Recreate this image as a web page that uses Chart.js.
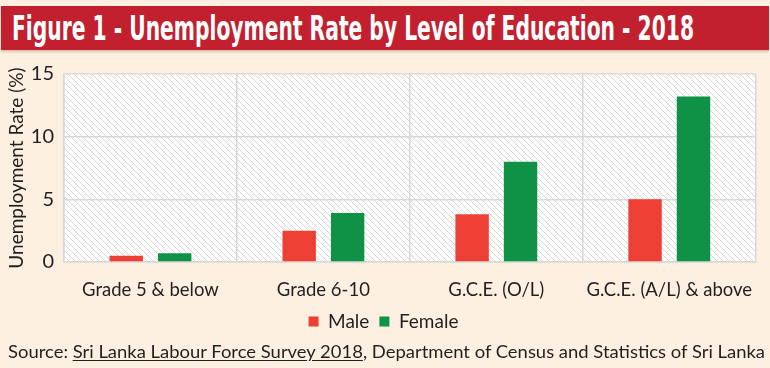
<!DOCTYPE html>
<html>
<head>
<meta charset="utf-8">
<script src="https://cdn.jsdelivr.net/npm/chart.js@4/dist/chart.umd.min.js"></script>
<style>
  html, body { margin: 0; padding: 0; }
  body { width: 770px; height: 368px; background: #fdf0e0; position: relative; overflow: hidden; }
  #titleBar {
    position: absolute; left: 1px; top: 6px; width: 768px; height: 44px;
    background: #c2202f; box-shadow: 0 2px 2px rgba(120,60,40,0.25);
  }
  #titleText {
    position: absolute; left: 11px; top: 2px; white-space: nowrap;
    font-family: "Liberation Sans Narrow", "DejaVu Sans Condensed", sans-serif;
    font-weight: bold; font-size: 34px; color: #ffffff; transform-origin: 0 0;
  }
  #chartBox { position: absolute; left: 0; top: 0; width: 770px; height: 345px; }
  #source {
    position: absolute; left: 8px; top: 340px; white-space: nowrap;
    font-family: Lato, "Open Sans", sans-serif; font-size: 18px; color: #231f20;
    transform-origin: 0 0;
  }
  #source u { text-underline-offset: 2px; }
</style>
</head>
<body>
<div id="titleBar"><div id="titleText">Figure 1 - Unemployment Rate by Level of Education - 2018</div></div>
<div id="chartBox"><canvas id="eduChart"></canvas></div>
<div id="source">Source: <u>Sri Lanka Labour Force Survey 2018</u>, Department of Census and Statistics of Sri Lanka</div>
<script>
//############################
//######   Data     ########
//############################

const categories = ["Grade 5 & below", "Grade 6-10", "G.C.E. (O/L)", "G.C.E. (A/L) & above"];
const maleRate = [0.5, 2.5, 3.8, 5.0];
const femaleRate = [0.7, 3.9, 8.0, 13.2];
const yTicks = [0, 5, 10, 15];

//squeeze a line of text into a given width
function fitWidth(id, target) {
  const el = document.getElementById(id);
  const w = el.getBoundingClientRect().width;
  el.style.transform = "scaleX(" + (target / w) + ")";
}
fitWidth("titleText", 682);
fitWidth("source", 757);

//############################
//###### Hatch pattern ########
//############################

function makeHatch() {
  const s = 6;
  const c = document.createElement("canvas");
  c.width = s; c.height = s;
  const g = c.getContext("2d");
  g.fillStyle = "#ffffff";
  g.fillRect(0, 0, s, s);
  g.strokeStyle = "#d6d6d6";
  g.lineWidth = 1;
  g.beginPath();
  g.moveTo(-1, -1); g.lineTo(s + 1, s + 1);
  g.moveTo(-1, s - 1); g.lineTo(1, s + 1);
  g.moveTo(s - 1, -1); g.lineTo(s + 1, 1);
  g.stroke();
  return g.createPattern(c, "repeat");
}

const hatchBg = {
  id: "hatchBg",
  beforeDraw(chart) {
    const a = chart.chartArea;
    const ctx = chart.ctx;
    ctx.save();
    ctx.fillStyle = makeHatch();
    ctx.fillRect(a.left, a.top, a.right - a.left, a.bottom - a.top);
    ctx.restore();
  }
};

//############################
//###### Bar chart ########
//############################

const font = "Lato, 'Open Sans', sans-serif";

const config = {
  type: "bar",
  data: {
    labels: categories,
    datasets: [
      { label: "Male", data: maleRate, backgroundColor: "#ee3f35" },
      { label: "Female", data: femaleRate, backgroundColor: "#0f9146" }
    ]
  },
  options: {
    responsive: false,
    animation: false,
    categoryPercentage: 0.56,
    barPercentage: 0.69,
    layout: { padding: { top: 74, left: 4, right: 7, bottom: 4 } },
    plugins: {
      legend: {
        position: "bottom",
        labels: {
          boxWidth: 10, boxHeight: 10, padding: 10,
          color: "#231f20", font: { family: font, size: 19 }
        }
      },
      tooltip: { enabled: false }
    },
    scales: {
      x: {
        afterFit(axis) { axis.height = 40; },
        grid: { color: "#d8d8d8", lineWidth: 1.5, offset: true, drawTicks: false },
        border: { color: "#d8d8d8", width: 1.5 },
        ticks: { color: "#231f20", padding: 17, maxRotation: 0, font: { family: font, size: 18.5 } }
      },
      y: {
        min: 0, max: 15,
        afterFit(axis) { axis.width = 60; },
        afterBuildTicks(axis) { axis.ticks = yTicks.map(v => ({ value: v })); },
        grid: { color: "#d8d8d8", lineWidth: 1.5, drawTicks: false },
        border: { color: "#d8d8d8", width: 1.5 },
        ticks: { color: "#231f20", padding: 10, font: { family: font, size: 20 } },
        title: {
          display: true, text: "Unemployment Rate (%)", color: "#231f20",
          padding: { top: 1, bottom: 0 }, font: { family: font, size: 19 }
        }
      }
    }
  },
  plugins: [hatchBg]
};

const canvas = document.getElementById("eduChart");
canvas.width = 770; canvas.height = 345;
const eduChart = new Chart(canvas, config);
</script>
</body>
</html>
